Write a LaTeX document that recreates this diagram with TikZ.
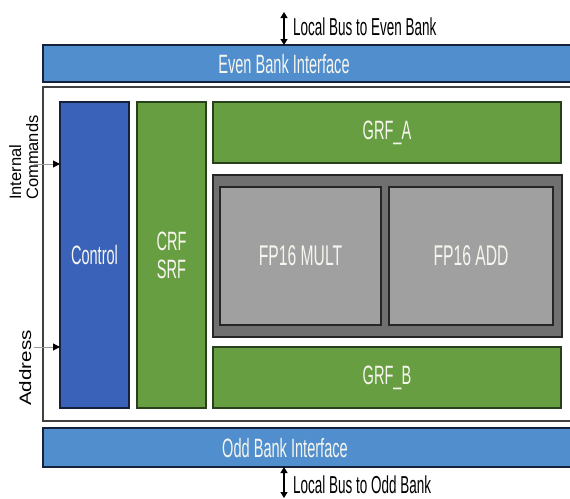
\documentclass[tikz,border=0pt]{standalone}
\usepackage{fontspec}
\setmainfont{Liberation Sans}
\newfontfamily\cond{Liberation Sans}[FakeStretch=0.55]
\newfontfamily\wide{Liberation Sans}[FakeStretch=1.25]
\usetikzlibrary{arrows.meta,calc}
\definecolor{ifblue}{RGB}{80,142,206}
\definecolor{ctlblue}{RGB}{58,98,184}
\definecolor{grfgreen}{RGB}{104,158,66}
\definecolor{grnborder}{RGB}{40,64,28}
\definecolor{outergray}{RGB}{112,112,112}
\definecolor{innergray}{RGB}{160,160,160}
\definecolor{txtwhite}{RGB}{246,246,238}
\definecolor{navy}{RGB}{22,34,60}
\tikzset{
  blk/.style={rectangle, anchor=north west, inner sep=0pt, outer sep=0pt, line width=1.6pt,
    text=txtwhite, font=\cond\fontsize{26.5}{28}\selectfont, align=center},
  ifbar/.style={blk, fill=ifblue, draw=navy},
  ctlbox/.style={blk, fill=ctlblue, draw=navy},
  grnbox/.style={blk, fill=grfgreen, draw=grnborder},
  graybox/.style={blk, fill=outergray, draw=black!85, line width=2pt},
  fpbox/.style={blk, fill=innergray, draw=black!85, line width=2pt, font=\cond\fontsize{28.5}{30}\selectfont},
  frame/.style={rectangle, anchor=north west, inner sep=0pt, outer sep=0pt, draw=black!75, line width=1.6pt, fill=white},
  lbl/.style={font=\cond\fontsize{24.5}{26}\selectfont, text=black, anchor=west, inner sep=0pt},
  vlbl/.style={font=\fontsize{16.5}{17}\selectfont, text=black, rotate=90, inner sep=0pt, align=left},
  busarrow/.style={{Triangle[length=6pt,width=7pt]}-{Triangle[length=6pt,width=7pt]}, line width=1.2pt},
  inarrow/.style={-{Triangle[length=7pt,width=7pt,color=black]}, draw=gray!80, line width=1pt},
}
\begin{document}
\begin{tikzpicture}[x=1pt,y=-1pt]
\useasboundingbox[fill=white] (0,0) rectangle (570,498);
\begin{scope}
\clip (0,0) rectangle (570,498);
% interface bars and frame
\node[ifbar, minimum width=560pt, minimum height=37pt] (even) at (43,45) {};
\node[txtwhite, font=\cond\fontsize{26.5}{28}\selectfont] (eventxt) at (284,64) {Even Bank Interface};
\node[frame, minimum width=560pt, minimum height=334pt] (frm) at (43,87) {};
\node[ifbar, minimum width=560pt, minimum height=39pt] (odd) at (43,428) {};
\node[txtwhite, font=\cond\fontsize{26.5}{28}\selectfont] (oddtxt) at (285,448) {Odd Bank Interface};
\end{scope}
% inner blocks
\node[ctlbox, minimum width=69pt, minimum height=306pt] (control) at (60,102) {Control};
\node[grnbox, minimum width=69pt, minimum height=306pt] (crf) at (137,102) {CRF\\SRF};
\node[grnbox, minimum width=348pt, minimum height=61pt] (grfa) at (213,102) {GRF\_A};
\node[graybox, minimum width=349pt, minimum height=162pt] (alu) at (213,175) {};
\node[fpbox, minimum width=161pt, minimum height=138pt] (mult) at (220,187) {FP16 MULT};
\node[fpbox, minimum width=164pt, minimum height=138pt] (add) at (389,187) {FP16 ADD};
\node[grnbox, minimum width=348pt, minimum height=61pt] (grfb) at (213,347) {GRF\_B};
% local bus arrows and labels
\coordinate (ebtop) at (284,12);
\draw[busarrow] (ebtop) -- (ebtop |- even.north);
\node[lbl] (ebl) at (293,27) {Local Bus to Even Bank};
\coordinate (obbot) at (284,498);
\draw[busarrow] (obbot |- odd.south) -- (obbot);
\node[lbl] (obl) at (293,485) {Local Bus to Odd Bank};
% side inputs
\coordinate (icin) at (34,164);
\draw[inarrow] (icin) -- (icin -| control.west);
\coordinate (adin) at (34,347);
\draw[inarrow] (adin) -- (adin -| control.west);
\node[vlbl, anchor=north west] (ictxt) at (9,200) {Internal\\Commands};
\node[vlbl, anchor=north west, font=\wide\fontsize{16.5}{17}\selectfont] (adtxt) at (19,406) {Address};
\end{tikzpicture}
\end{document}
